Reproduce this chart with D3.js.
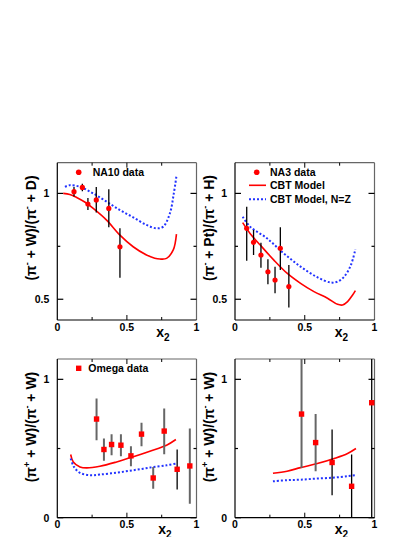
<!DOCTYPE html>
<html><head><meta charset="utf-8">
<script src="https://cdn.jsdelivr.net/npm/d3@7"></script>
<style>body{margin:0;background:#fff}svg{display:block}text{font-family:"Liberation Sans",Arial,sans-serif;font-weight:bold}</style>
</head><body>
<script>
// ---------- DATA ----------
// Panel 1: NA10 (pi- W)/(pi- D)
const na10X = [0.12, 0.18, 0.22, 0.28, 0.37, 0.45];
const na10Y = [1.008, 1.028, 0.95, 0.969, 0.929, 0.748];
const na10Lo = [0.985, 1.01, 0.922, 0.91, 0.84, 0.602];
const na10Hi = [1.03, 1.045, 0.978, 1.03, 1.02, 0.835];
const p1RedX = [0.043, 0.09, 0.139, 0.2, 0.258, 0.354, 0.45, 0.545, 0.641, 0.7, 0.737, 0.785, 0.833, 0.856];
const p1RedY = [1.0, 0.995, 0.981, 0.958, 0.929, 0.874, 0.803, 0.748, 0.709, 0.694, 0.690, 0.693, 0.733, 0.808];
const p1BlueX = [0.055, 0.091, 0.163, 0.258, 0.354, 0.45, 0.545, 0.641, 0.713, 0.761, 0.809, 0.837, 0.856];
const p1BlueY = [1.031, 1.039, 1.031, 1.0, 0.961, 0.921, 0.887, 0.851, 0.835, 0.843, 0.906, 1.0, 1.082];

// Panel 2: NA3 (pi- Pt)/(pi- H)
const na3X = [0.084, 0.133, 0.186, 0.236, 0.287, 0.325, 0.386];
const na3Y = [0.835, 0.769, 0.709, 0.630, 0.591, 0.741, 0.560];
const na3Lo = [0.682, 0.709, 0.649, 0.571, 0.528, 0.638, 0.461];
const na3Hi = [0.937, 0.827, 0.767, 0.689, 0.654, 0.840, 0.662];
const p2RedX = [0.055, 0.108, 0.181, 0.277, 0.373, 0.47, 0.566, 0.663, 0.735, 0.771, 0.807, 0.843, 0.863];
const p2RedY = [0.862, 0.811, 0.756, 0.686, 0.623, 0.575, 0.536, 0.505, 0.476, 0.473, 0.489, 0.520, 0.541];
const p2BlueX = [0.055, 0.108, 0.229, 0.349, 0.47, 0.59, 0.687, 0.735, 0.783, 0.831, 0.863];
const p2BlueY = [0.890, 0.843, 0.788, 0.717, 0.654, 0.604, 0.579, 0.583, 0.607, 0.662, 0.736];

// Panel 3: Omega (pi+ W)/(pi- W)
const omX = [0.282, 0.335, 0.390, 0.457, 0.529, 0.605, 0.689, 0.768, 0.861, 0.952];
const omY = [0.713, 0.493, 0.529, 0.524, 0.447, 0.604, 0.287, 0.626, 0.350, 0.374];
const omLo = [0.560, 0.411, 0.452, 0.444, 0.372, 0.517, 0.210, 0.459, 0.203, 0.101];
const omHi = [0.862, 0.572, 0.604, 0.604, 0.517, 0.686, 0.367, 0.790, 0.493, 0.645];
const omDark = [0, 0, 0, 0, 0, 0, 0, 0, 1, 0];
const p3RedX = [0.096, 0.115, 0.163, 0.211, 0.306, 0.426, 0.545, 0.665, 0.785, 0.852];
const p3RedY = [0.457, 0.403, 0.367, 0.360, 0.372, 0.403, 0.440, 0.481, 0.524, 0.565];
const p3BlueX = [0.096, 0.12, 0.163, 0.234, 0.306, 0.426, 0.545, 0.665, 0.785, 0.852];
const p3BlueY = [0.428, 0.367, 0.324, 0.307, 0.312, 0.326, 0.343, 0.362, 0.379, 0.391];

// Panel 4: (pi+ W)/(pi- W), second set
const p4X = [0.477, 0.578, 0.696, 0.836, 0.98];
const p4Y = [0.749, 0.543, 0.399, 0.227, 0.831];
const p4Lo = [0.360, 0.336, 0.162, -0.1, -0.1];
const p4Hi = [1.3, 0.749, 0.638, 0.457, 1.3];
const p4Dark = [0, 0, 1, 1, 1];
const p4RedX = [0.272, 0.373, 0.470, 0.590, 0.711, 0.807, 0.867];
const p4RedY = [0.321, 0.336, 0.362, 0.391, 0.428, 0.464, 0.500];
const p4BlueX = [0.272, 0.373, 0.470, 0.590, 0.711, 0.807, 0.867];
const p4BlueY = [0.263, 0.271, 0.275, 0.283, 0.290, 0.300, 0.307];

const xTickLabels = ["0", "0.5", "1"];
const xTicks = [0, 0.25, 0.5, 0.75, 1];

// ---------- DRAW ----------
const W = 415, H = 537;
const svg = d3.select("body").append("svg").attr("width", W).attr("height", H);
const defs = svg.append("defs");
const RED = "#ff0000", BLUE = "#2233ff";

function panel(cfg) {
  const x = d3.scaleLinear().domain([0, 1]).range([cfg.l, cfg.r]);
  const y = d3.scaleLinear().domain(cfg.yDom).range([cfg.b, cfg.t]);
  const g = svg.append("g");
  const cid = "clip" + cfg.id;
  defs.append("clipPath").attr("id", cid).append("rect")
    .attr("x", cfg.l).attr("y", cfg.t).attr("width", cfg.r - cfg.l).attr("height", cfg.b - cfg.t);

  // frame
  g.append("line").attr("x1", cfg.l).attr("x2", cfg.r).attr("y1", cfg.t).attr("y2", cfg.t).attr("stroke", "#666").attr("stroke-width", 1.2);
  g.append("line").attr("x1", cfg.r).attr("x2", cfg.r).attr("y1", cfg.t).attr("y2", cfg.b).attr("stroke", "#666").attr("stroke-width", 1.2);
  g.append("line").attr("x1", cfg.l).attr("x2", cfg.l).attr("y1", cfg.t).attr("y2", cfg.b).attr("stroke", "#000").attr("stroke-width", 1.2);
  g.append("line").attr("x1", cfg.l).attr("x2", cfg.r).attr("y1", cfg.b).attr("y2", cfg.b).attr("stroke", "#000").attr("stroke-width", 1.2);

  // x ticks (bottom & top, inward)
  xTicks.forEach((v, i) => {
    const len = (i % 2 === 0) ? 5 : 3;
    if (v > 0 && v < 1) {
      g.append("line").attr("x1", x(v)).attr("x2", x(v)).attr("y1", cfg.b).attr("y2", cfg.b - len).attr("stroke", "#000");
      g.append("line").attr("x1", x(v)).attr("x2", x(v)).attr("y1", cfg.t).attr("y2", cfg.t + len).attr("stroke", "#000");
    }
  });
  xTickLabels.forEach(s => {
    g.append("text").attr("x", x(+s)).attr("y", cfg.b + 10.5).attr("text-anchor", "middle")
      .attr("font-size", 10.5).text(s);
  });
  // y ticks
  cfg.yTicks.forEach((v) => {
    const major = cfg.yMajor.includes(v);
    const len = major ? 6 : 3;
    g.append("line").attr("x1", cfg.l).attr("x2", cfg.l + len).attr("y1", y(v)).attr("y2", y(v)).attr("stroke", "#000").attr("stroke-width", 1.2);
    g.append("line").attr("x1", cfg.r).attr("x2", cfg.r - len).attr("y1", y(v)).attr("y2", y(v)).attr("stroke", "#000").attr("stroke-width", 1.2);
  });
  cfg.yLabels.forEach(s => {
    g.append("text").attr("x", cfg.l - 8).attr("y", y(+s) + 4).attr("text-anchor", "end")
      .attr("font-size", 10.5).text(s);
  });
  // x label
  const xl = g.append("text").attr("x", x(cfg.xlabPos)).attr("y", cfg.b + 16.5).attr("font-size", 14).attr("text-anchor", "start");
  xl.append("tspan").text("x");
  xl.append("tspan").attr("font-size", 10).attr("dy", 4).text("2");
  // y label
  const yl = g.append("text").attr("transform", `translate(${cfg.l - 21},${cfg.ylabC}) rotate(-90)`)
    .attr("text-anchor", "middle").attr("font-size", 14);
  cfg.ylab.forEach(part => {
    if (part.sup) yl.append("tspan").attr("font-size", 9).attr("dy", -6).text(part.t);
    else yl.append("tspan").attr("dy", part.after ? 6 : 0).text(part.t);
  });

  const inner = g.append("g").attr("clip-path", `url(#${cid})`);
  const line = d3.line().x(d => x(d[0])).y(d => y(d[1])).curve(d3.curveCatmullRom.alpha(0.5));
  inner.append("path").datum(d3.zip(cfg.redX, cfg.redY)).attr("d", line)
    .attr("fill", "none").attr("stroke", RED).attr("stroke-width", 1.6);
  inner.append("path").datum(d3.zip(cfg.blueX, cfg.blueY)).attr("d", line)
    .attr("fill", "none").attr("stroke", BLUE).attr("stroke-width", 2).attr("stroke-dasharray", "2,2");

  // error bars
  cfg.px.forEach((v, i) => {
    const dark = cfg.dark ? cfg.dark[i] : 1;
    inner.append("line").attr("x1", x(v)).attr("x2", x(v)).attr("y1", y(cfg.lo[i])).attr("y2", y(cfg.hi[i]))
      .attr("stroke", dark ? "#000" : "#666").attr("stroke-width", dark ? 1.3 : 2);
  });
  // markers
  cfg.px.forEach((v, i) => {
    if (cfg.square) {
      g.append("rect").attr("x", x(v) - 2.7).attr("y", y(cfg.py[i]) - 2.7).attr("width", 5.4).attr("height", 5.4).attr("fill", RED);
    } else {
      g.append("circle").attr("cx", x(v)).attr("cy", y(cfg.py[i])).attr("r", 2.6).attr("fill", RED);
    }
  });
  return { x, y, g };
}

const ylabTop1 = [{t:"(π"},{t:"-",sup:true},{t:" + W)/(π",after:true},{t:"-",sup:true},{t:" + D)",after:true}];
const ylabTop2 = [{t:"(π"},{t:"-",sup:true},{t:" + Pt)/(π",after:true},{t:"-",sup:true},{t:" + H)",after:true}];
const ylabBot = [{t:"(π"},{t:"+",sup:true},{t:" + W)/(π",after:true},{t:"-",sup:true},{t:" + W)",after:true}];

panel({id:1, l:57.3, r:196.5, t:162.7, b:320, yDom:[0.402,1.145], yTicks:[0.5,0.75,1], yMajor:[0.5,1], yLabels:["0.5","1"], xlabPos: 0.71,
  ylab: ylabTop1, ylabC: 228, px: na10X, py: na10Y, lo: na10Lo, hi: na10Hi, redX: p1RedX, redY: p1RedY, blueX: p1BlueX, blueY: p1BlueY});
panel({id:2, l:235, r:374.5, t:162.7, b:320, yDom:[0.402,1.145], yTicks:[0.5,0.75,1], yMajor:[0.5,1], yLabels:["0.5","1"], xlabPos: 0.715,
  ylab: ylabTop2, ylabC: 228, px: na3X, py: na3Y, lo: na3Lo, hi: na3Hi, redX: p2RedX, redY: p2RedY, blueX: p2BlueX, blueY: p2BlueY});
panel({id:3, l:57.3, r:196.5, t:359, b:517.7, yDom:[0,1.147], yTicks:[0,0.5,1], yMajor:[0,1], yLabels:["0","1"], xlabPos: 0.725,
  ylab: ylabBot, ylabC: 427, px: omX, py: omY, lo: omLo, hi: omHi, dark: omDark, square: true, redX: p3RedX, redY: p3RedY, blueX: p3BlueX, blueY: p3BlueY});
panel({id:4, l:235, r:374.5, t:359, b:517.7, yDom:[0,1.147], yTicks:[0,0.5,1], yMajor:[0,1], yLabels:["0","1"], xlabPos: 0.715,
  ylab: ylabBot, ylabC: 427, px: p4X, py: p4Y, lo: p4Lo, hi: p4Hi, dark: p4Dark, square: true, redX: p4RedX, redY: p4RedY, blueX: p4BlueX, blueY: p4BlueY});

// legends
svg.append("circle").attr("cx", 78.7).attr("cy", 172.3).attr("r", 2.8).attr("fill", RED);
svg.append("text").attr("x", 92.7).attr("y", 176).attr("font-size", 10.5).text("NA10 data");

svg.append("circle").attr("cx", 256.7).attr("cy", 172.3).attr("r", 2.8).attr("fill", RED);
svg.append("text").attr("x", 270).attr("y", 176).attr("font-size", 10.5).text("NA3 data");
svg.append("line").attr("x1", 249).attr("x2", 266).attr("y1", 185.3).attr("y2", 185.3).attr("stroke", RED).attr("stroke-width", 1.6);
svg.append("text").attr("x", 270).attr("y", 189).attr("font-size", 10.5).text("CBT Model");
svg.append("line").attr("x1", 249).attr("x2", 266).attr("y1", 199.3).attr("y2", 199.3).attr("stroke", BLUE).attr("stroke-width", 2).attr("stroke-dasharray", "2,2");
svg.append("text").attr("x", 270).attr("y", 203).attr("font-size", 10.5).text("CBT Model, N=Z");

svg.append("rect").attr("x", 76).attr("y", 365.6).attr("width", 5.4).attr("height", 5.4).attr("fill", RED);
svg.append("text").attr("x", 88.3).attr("y", 372).attr("font-size", 10.5).text("Omega data");
</script>
</body></html>
